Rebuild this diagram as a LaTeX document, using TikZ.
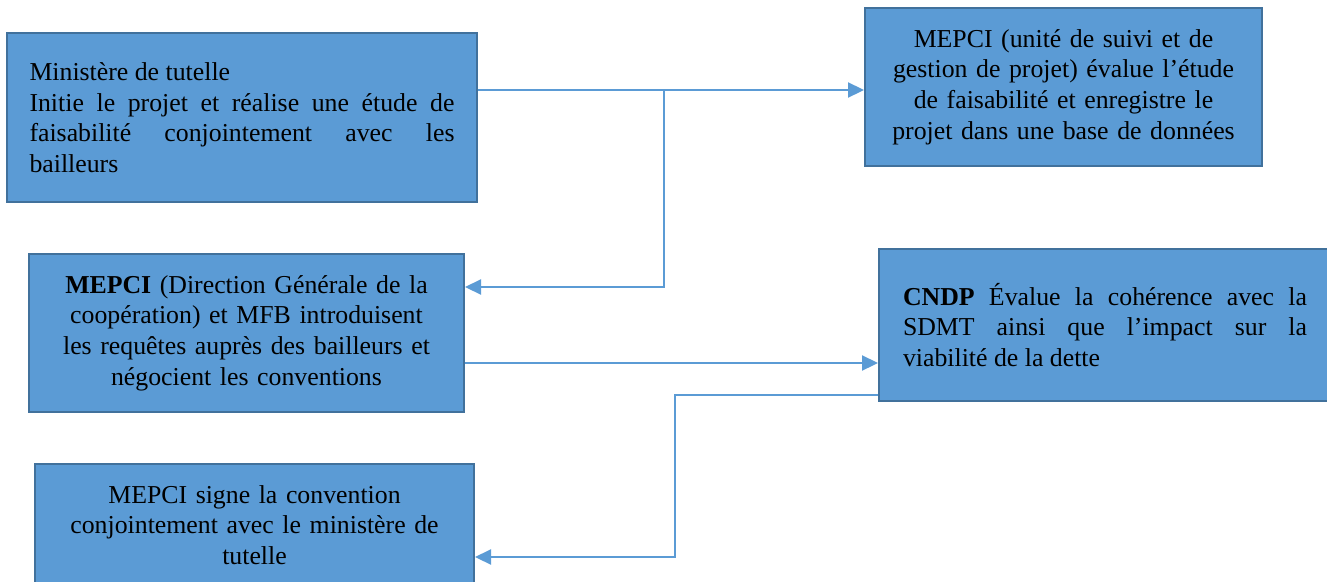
\documentclass[tikz,border=0pt]{standalone}
\usepackage{fontspec}
\setmainfont{Liberation Serif}
\usetikzlibrary{arrows.meta}
\definecolor{boxfill}{HTML}{5B9BD5}
\definecolor{boxline}{HTML}{41719C}
\tikzset{
  box/.style={draw=boxline, fill=boxfill, line width=2pt, inner sep=0pt,
    font=\fontsize{25.8}{30.6}\selectfont, text=black},
  arr/.style={draw=boxfill, line width=2.2pt, -{Triangle[length=16pt,width=15pt]}},
  link/.style={draw=boxfill, line width=2.2pt}
}
\begin{document}
\begin{tikzpicture}[x=1pt,y=-1pt]
\useasboundingbox (0,0) rectangle (1327,581);
\clip (0,0) rectangle (1327,581);
\node[box, text width=425pt, align=justify, minimum width=470pt, minimum height=169pt] (b1) at (242,117.5)
  {Ministère de tutelle\newline Initie le projet et réalise une étude de\linebreak faisabilité conjointement avec les\linebreak bailleurs};
\node[box, text width=380pt, align=center, minimum width=397pt, minimum height=158pt] (b2) at (1063.5,87)
  {MEPCI (unité de suivi et de\\ gestion de projet) évalue l’étude\\ de faisabilité et enregistre le\\ projet dans une base de données};
\node[box, text width=400pt, align=center, minimum width=435pt, minimum height=158pt] (b3) at (246.5,333)
  {\textbf{MEPCI} (Direction Générale de la\\ coopération) et MFB introduisent\\ les requêtes auprès des bailleurs et\\ négocient les conventions};
\node[box, text width=404pt, align=justify, minimum width=452pt, minimum height=152pt] (b4) at (1105,325)
  {\textbf{CNDP} Évalue la cohérence avec la\linebreak SDMT ainsi que l’impact sur la\linebreak viabilité de la dette};
\node[box, text width=400pt, align=center, minimum width=439pt, minimum height=122pt] (b5) at (254.5,525)
  {MEPCI signe la convention\\ conjointement avec le ministère de\\ tutelle};
\coordinate (j1) at (664,90);
\coordinate (j2) at (664,287);
\coordinate (j3) at (670,363);
\coordinate (j4) at (675,395);
\coordinate (j5) at (675,557);
\draw[arr] (b1.east |- j1) -- (j1 -| b2.west);
\draw[arr] (j1) -- (j2) -- (j2 -| b3.east);
\draw[arr] (b3.east |- j3) -- (j3 -| b4.west);
\draw[arr] (j4 -| b4.west) -- (j4) -- (j5) -- (j5 -| b5.east);
\end{tikzpicture}
\end{document}
